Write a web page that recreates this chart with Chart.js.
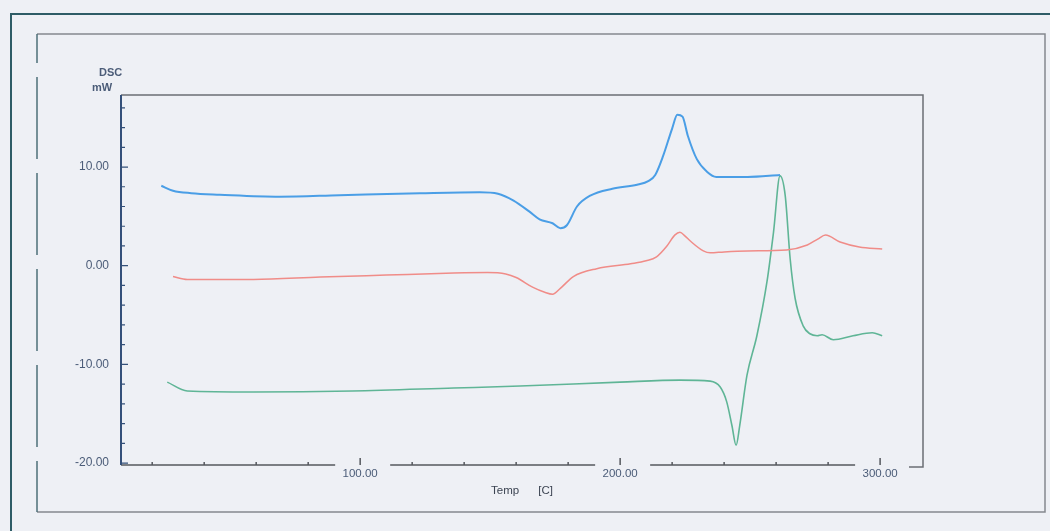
<!DOCTYPE html>
<html>
<head>
<meta charset="utf-8">
<script src="https://cdn.jsdelivr.net/npm/chart.js@4/dist/chart.umd.min.js"></script>
<style>
  html, body { margin: 0; padding: 0; background: #eef0f5; }
  #wrap { width: 1050px; height: 531px; }
</style>
</head>
<body>
<div id="wrap"><canvas id="dscChart" width="1050" height="531"></canvas></div>
<script>
// temperature [C] and DSC [mW]
const blueTemp = [23.5, 28, 35, 46, 69, 92, 123, 146, 153, 159, 165, 169, 174, 177, 179.5, 183.4, 188.5, 197, 206.5, 211, 213.5, 216.5, 220, 222, 224, 226, 229.5, 233.5, 237, 249, 261.5];
const blueDsc = [8.1, 7.6, 7.35, 7.2, 7.0, 7.15, 7.35, 7.45, 7.3, 6.6, 5.5, 4.7, 4.3, 3.8, 4.1, 6.0, 7.1, 7.8, 8.2, 8.6, 9.2, 11.1, 13.9, 15.3, 15.1, 13.2, 10.8, 9.5, 9.0, 9.0, 9.2];

const redTemp = [28, 33.5, 59, 84.6, 110, 136, 149, 156, 160, 166.5, 171, 174, 177, 182, 191, 204, 210, 214, 218, 221, 223, 225, 227, 232, 234.6, 240, 249, 264, 272, 276, 279, 284.6, 292, 300.8];
const redDsc = [-1.1, -1.4, -1.4, -1.15, -0.95, -0.75, -0.7, -0.85, -1.2, -2.2, -2.7, -2.9, -2.3, -1.1, -0.3, 0.2, 0.5, 0.9, 2.0, 3.1, 3.4, 3.0, 2.5, 1.5, 1.3, 1.4, 1.5, 1.6, 2.1, 2.7, 3.1, 2.4, 1.9, 1.7];

const greenTemp = [25.8, 33.5, 59, 97, 136, 161.5, 200, 223, 234.6, 238.5, 241, 243, 244.6, 246, 248.8, 252.6, 256.5, 259, 261.5, 263.5, 265.4, 267.3, 270.4, 273, 275.8, 277.7, 282, 289.6, 297, 300.8];
const greenDsc = [-11.8, -12.7, -12.8, -12.7, -12.4, -12.2, -11.8, -11.6, -11.7, -12.3, -13.8, -16.2, -18.2, -16.2, -11.1, -7.1, -1.6, 3.4, 9.1, 7.1, 0.7, -3.3, -6.1, -6.9, -7.1, -7.0, -7.5, -7.1, -6.8, -7.1];

const xTickValues = [100, 200, 300];
const yTickValues = [-20, -10, 0, 10];

function toPoints(xs, ys) {
  return xs.map((x, i) => ({ x: x, y: ys[i] }));
}

const axisBlue = "#34507a";
const labelColor = "#4b5c78";

const framePlugin = {
  id: "frames",
  beforeDraw(chart) {
    const c = chart.ctx;
    const { left, right, top, bottom } = chart.chartArea;
    c.save();
    c.fillStyle = "#eef0f5";
    c.fillRect(0, 0, chart.width, chart.height);

    // outer page frame
    c.strokeStyle = "#2e5c66";
    c.lineWidth = 2;
    c.beginPath();
    c.moveTo(11, 531); c.lineTo(11, 14); c.lineTo(1050, 14);
    c.stroke();

    // inner frame
    c.strokeStyle = "#85888e";
    c.lineWidth = 1.5;
    c.beginPath();
    c.moveTo(37, 34); c.lineTo(1045, 34); c.lineTo(1045, 512); c.lineTo(37, 512);
    c.stroke();
    c.strokeStyle = "#4d6f78";
    c.setLineDash([82, 14]);
    c.lineDashOffset = 53;
    c.beginPath();
    c.moveTo(37, 34); c.lineTo(37, 512);
    c.stroke();
    c.setLineDash([]);

    // plot box top and right
    c.strokeStyle = "#6b6e74";
    c.lineWidth = 1.5;
    c.beginPath();
    c.moveTo(left, top); c.lineTo(right, top); c.lineTo(right, bottom + 2); c.lineTo(right - 14, bottom + 2);
    c.stroke();

    // x axis line, broken around the labels
    const xs = chart.scales.x;
    c.strokeStyle = "#55585e";
    c.beginPath();
    let start = left;
    xTickValues.forEach(v => {
      const px = xs.getPixelForValue(v);
      if (px - 25 > start) { c.moveTo(start, bottom); c.lineTo(px - 25, bottom); }
      start = px + 30;
    });
    c.stroke();

    // x ticks
    c.beginPath();
    for (let v = 20; v <= 300; v += 20) {
      const px = xs.getPixelForValue(v);
      const len = v % 100 === 0 ? 7 : 3;
      c.moveTo(px, bottom); c.lineTo(px, bottom - len);
    }
    c.stroke();

    // y axis line and ticks
    const ys = chart.scales.y;
    c.strokeStyle = axisBlue;
    c.lineWidth = 2;
    c.beginPath();
    c.moveTo(left, top); c.lineTo(left, bottom);
    c.stroke();
    c.lineWidth = 1.2;
    c.beginPath();
    for (let v = -20; v <= 16; v += 2) {
      const py = ys.getPixelForValue(v);
      const len = v % 10 === 0 ? 7 : 4;
      c.moveTo(left, py); c.lineTo(left + len, py);
    }
    c.stroke();

    // y axis caption
    c.fillStyle = labelColor;
    c.font = "bold 11px 'Liberation Sans', Arial, sans-serif";
    c.textAlign = "left";
    c.textBaseline = "middle";
    c.fillText("DSC", 99, 73);
    c.fillText("mW", 92, 88);
    c.restore();
  }
};

const ctx = document.getElementById("dscChart");

new Chart(ctx, {
  type: "line",
  data: {
    datasets: [
      { label: "a", data: toPoints(blueTemp, blueDsc), borderColor: "#4a9ee6", borderWidth: 2 },
      { label: "b", data: toPoints(redTemp, redDsc), borderColor: "#f08c88", borderWidth: 1.5 },
      { label: "c", data: toPoints(greenTemp, greenDsc), borderColor: "#5fb596", borderWidth: 1.6 }
    ]
  },
  options: {
    responsive: false,
    animation: false,
    devicePixelRatio: 1,
    layout: { padding: { left: 0, top: 95, right: 127, bottom: 29 } },
    elements: {
      point: { radius: 0 },
      line: { cubicInterpolationMode: "monotone", fill: false }
    },
    plugins: { legend: { display: false }, tooltip: { enabled: false } },
    scales: {
      x: {
        type: "linear",
        min: 8,
        max: 316.5,
        grid: { display: false, drawTicks: false },
        border: { display: false },
        afterBuildTicks: s => { s.ticks = xTickValues.map(v => ({ value: v })); },
        afterFit: s => { s.height = 37; },
        ticks: {
          padding: 2,
          maxRotation: 0,
          color: labelColor,
          font: { family: "'Liberation Sans', Arial, sans-serif", size: 11.5 },
          callback: v => v.toFixed(2)
        },
        title: {
          display: true,
          text: "Temp      [C]",
          color: "#3c4452",
          font: { family: "'Liberation Sans', Arial, sans-serif", size: 11.5 },
          padding: { top: 3 }
        }
      },
      y: {
        min: -20.2,
        max: 17.3,
        grid: { display: false, drawTicks: false },
        border: { display: false },
        afterBuildTicks: s => { s.ticks = yTickValues.map(v => ({ value: v })); },
        afterFit: s => { s.width = 121; },
        ticks: {
          padding: 12,
          color: labelColor,
          font: { family: "'Liberation Sans', Arial, sans-serif", size: 12 },
          callback: v => v.toFixed(2)
        }
      }
    }
  },
  plugins: [framePlugin]
});
</script>
</body>
</html>
